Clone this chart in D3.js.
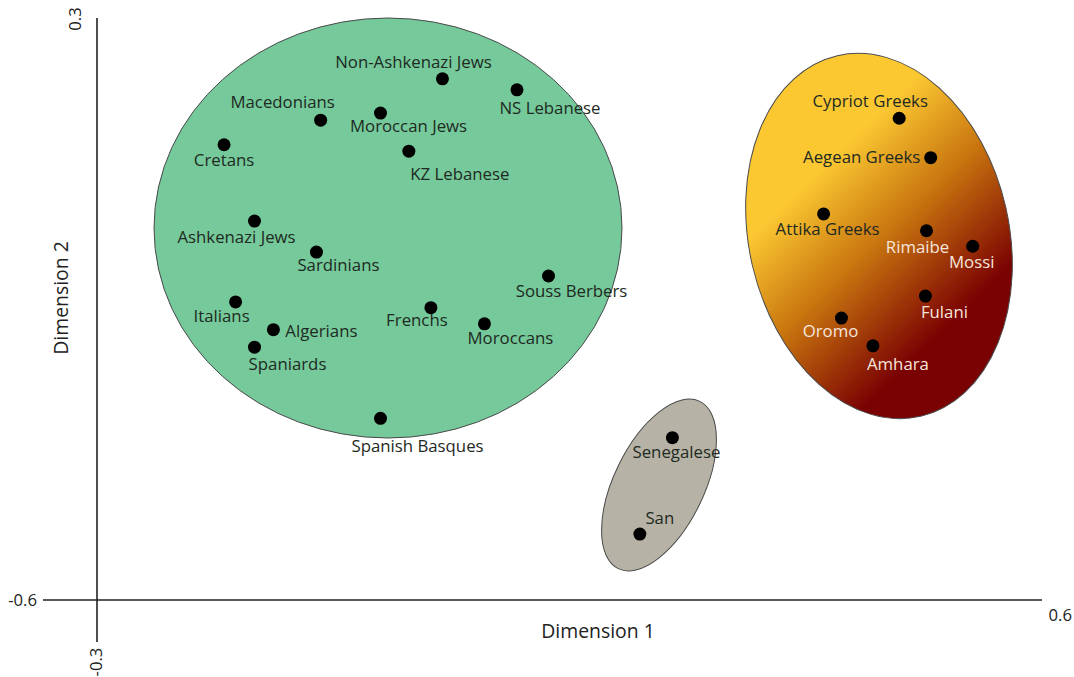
<!DOCTYPE html>
<html>
<head>
<meta charset="utf-8">
<script src="https://d3js.org/d3.v7.min.js"></script>
<style>
  body { margin: 0; background: #fff; }
  text { font-family: "Open Sans", "Noto Sans", sans-serif; }
</style>
</head>
<body>
<script>

// populations and their MDS coordinates (dimension 1, dimension 2)
var names = ["Non-Ashkenazi Jews", "NS Lebanese", "Macedonians", "Moroccan Jews", "Cretans",
             "KZ Lebanese", "Ashkenazi Jews", "Sardinians", "Souss Berbers", "Italians",
             "Algerians", "Spaniards", "Frenchs", "Moroccans", "Spanish Basques",
             "Cypriot Greeks", "Aegean Greeks", "Attika Greeks", "Rimaibe", "Mossi",
             "Fulani", "Oromo", "Amhara", "Senegalese", "San"];
var dim1 = [0.029, 0.100, -0.087, -0.030, -0.179,
            -0.003, -0.150, -0.091, 0.130, -0.168,
            -0.132, -0.150, 0.018, 0.069, -0.030,
            0.464, 0.494, 0.392, 0.490, 0.534,
            0.489, 0.409, 0.439, 0.248, 0.217];
var dim2 = [0.206, 0.189, 0.142, 0.153, 0.104,
            0.094, -0.014, -0.062, -0.099, -0.139,
            -0.182, -0.209, -0.148, -0.173, -0.319,
            0.145, 0.084, -0.003, -0.029, -0.053,
            -0.130, -0.164, -0.207, -0.349, -0.498];
// cluster each population belongs to
var cluster = ["med", "med", "med", "med", "med", "med", "med", "med", "med", "med",
               "med", "med", "med", "med", "med",
               "afr", "afr", "afr", "afr", "afr", "afr", "afr", "afr",
               "west", "west"];

// tick labels at the axis ends
var xDomain = [-0.3, 0.6];
var yDomain = [-0.6, 0.3];

var width = 1074, height = 677;

// label placement (pixels from the dot: centre x, baseline y)
var labelOffset = [[-29, -11], [33, 24], [-38, -12], [28, 19], [0, 21],
                   [51, 29], [-18, 22], [22, 19], [23, 21], [-14, 20],
                   [48, 7], [33, 23], [-14, 18], [26, 20], [37, 34],
                   [-29, -11], [-69, 5], [4, 21], [-9, 22], [-1, 22],
                   [19, 22], [-11, 19], [25, 24], [4, 20], [20, -10]];
var whiteLabels = ["Rimaibe", "Mossi", "Fulani", "Oromo", "Amhara"];

var x = d3.scaleLinear().domain(xDomain).range([97, 1042]);
var y = d3.scaleLinear().domain(yDomain).range([600, 18]);

var svg = d3.select("body").append("svg")
    .attr("width", width)
    .attr("height", height);

// gradient is given in page pixels, mapped back into the rotated ellipse frame
var defs = svg.append("defs");
var grad = defs.append("linearGradient")
    .attr("id", "afrGrad")
    .attr("gradientUnits", "userSpaceOnUse")
    .attr("gradientTransform", "rotate(13) translate(-879,-236)")
    .attr("x1", 815).attr("y1", 175)
    .attr("x2", 955).attr("y2", 320);
grad.append("stop").attr("offset", "0").attr("stop-color", "#fbc832");
grad.append("stop").attr("offset", "0.45").attr("stop-color", "#c9760f");
grad.append("stop").attr("offset", "1").attr("stop-color", "#7a0202");

// cluster ellipses
svg.append("ellipse")
    .attr("cx", 388).attr("cy", 228)
    .attr("rx", 234).attr("ry", 210)
    .style("fill", "#75c99a")
    .style("stroke", "#4a4a4a")
    .style("stroke-width", 1);

svg.append("ellipse")
    .attr("transform", "translate(879,236) rotate(-13)")
    .attr("rx", 130).attr("ry", 185)
    .style("fill", "url(#afrGrad)")
    .style("stroke", "#4a4a4a")
    .style("stroke-width", 1);

svg.append("ellipse")
    .attr("transform", "translate(659,485) rotate(26)")
    .attr("rx", 45).attr("ry", 93)
    .style("fill", "#b6b2a5")
    .style("stroke", "#4a4a4a")
    .style("stroke-width", 1);

// axes
svg.append("line")
    .attr("x1", 43).attr("x2", x(xDomain[1]))
    .attr("y1", y(yDomain[0])).attr("y2", y(yDomain[0]))
    .style("stroke", "#222").style("stroke-width", 1.6);

svg.append("line")
    .attr("x1", x(xDomain[0])).attr("x2", x(xDomain[0]))
    .attr("y1", y(yDomain[1])).attr("y2", 642)
    .style("stroke", "#222").style("stroke-width", 1.6);

svg.append("text")
    .attr("x", 37).attr("y", y(yDomain[0]) + 6)
    .style("text-anchor", "end")
    .style("font-size", "16.7px")
    .style("fill", "#222")
    .text(yDomain[0].toFixed(1));

svg.append("text")
    .attr("transform", "translate(81," + (y(yDomain[1]) + 1) + ") rotate(-90)")
    .style("text-anchor", "middle")
    .style("font-size", "16.7px")
    .style("fill", "#222")
    .text(yDomain[1].toFixed(1));

svg.append("text")
    .attr("transform", "translate(" + (x(xDomain[0]) + 5) + ",662) rotate(-90)")
    .style("text-anchor", "middle")
    .style("font-size", "16.7px")
    .style("fill", "#222")
    .text(xDomain[0].toFixed(1));

svg.append("text")
    .attr("x", 1072).attr("y", 621)
    .style("text-anchor", "end")
    .style("font-size", "16.7px")
    .style("fill", "#222")
    .text(xDomain[1].toFixed(1));

svg.append("text")
    .attr("x", 598).attr("y", 638)
    .style("text-anchor", "middle")
    .style("font-size", "19.4px")
    .style("fill", "#222")
    .text("Dimension 1");

svg.append("text")
    .attr("transform", "translate(68,298) rotate(-90)")
    .style("text-anchor", "middle")
    .style("font-size", "19.4px")
    .style("fill", "#222")
    .text("Dimension 2");

// points
var pts = names.map(function(n, i) {
  return {name: n, d1: dim1[i], d2: dim2[i], off: labelOffset[i], group: cluster[i]};
});

svg.append("g")
  .selectAll("circle")
  .data(pts)
  .enter()
  .append("circle")
    .attr("cx", function(d) { return x(d.d1); })
    .attr("cy", function(d) { return y(d.d2); })
    .attr("r", 6.5)
    .style("fill", "#000");

svg.append("g")
  .selectAll("text")
  .data(pts)
  .enter()
  .append("text")
    .attr("x", function(d) { return x(d.d1) + d.off[0]; })
    .attr("y", function(d) { return y(d.d2) + d.off[1]; })
    .style("text-anchor", "middle")
    .style("font-size", "16.8px")
    .style("fill", function(d) { return whiteLabels.indexOf(d.name) >= 0 ? "#f6e6dc" : "#1e2a22"; })
    .text(function(d) { return d.name; });

</script>
</body>
</html>
